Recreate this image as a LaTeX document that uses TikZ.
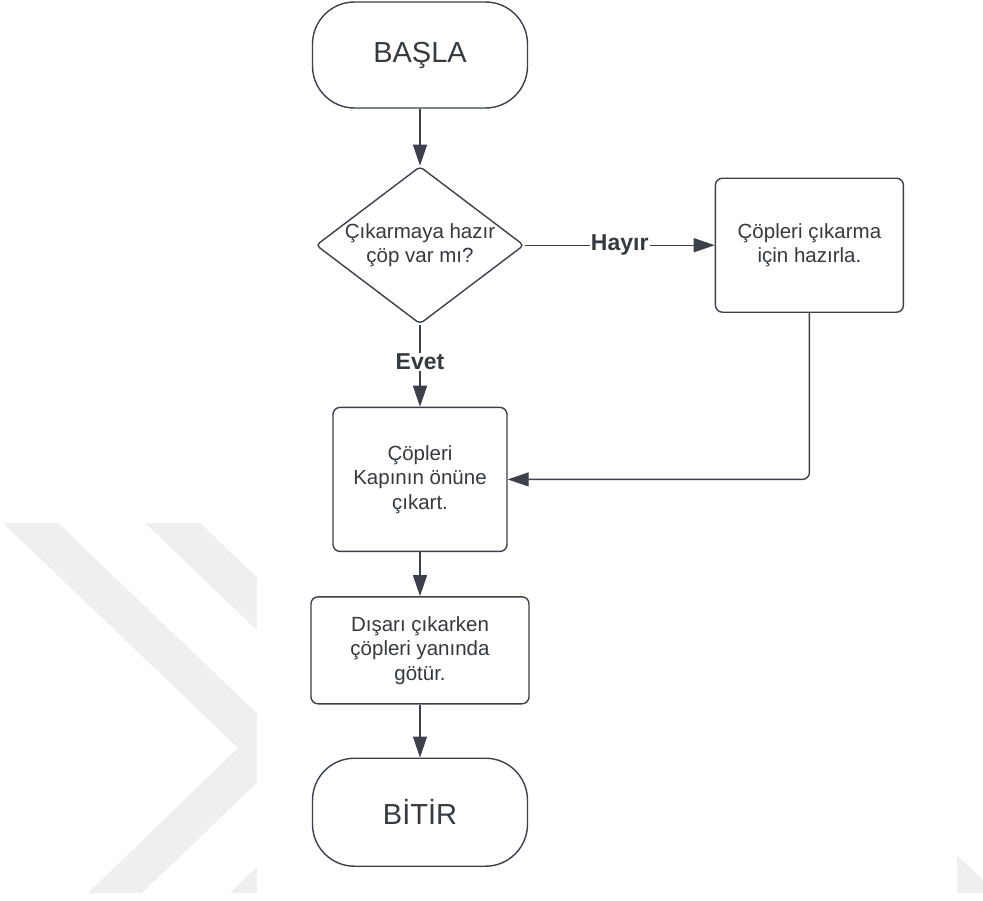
\documentclass[tikz,border=0pt]{standalone}
\usepackage{fontspec}
\setmainfont{Liberation Sans}
\usetikzlibrary{arrows.meta,shapes.geometric,positioning}
\definecolor{lineGray}{HTML}{3A414A}
\definecolor{textGray}{HTML}{333A40}
\definecolor{markGray}{HTML}{EFEFEF}

\begin{document}
\begin{tikzpicture}[x=1pt, y=-1pt,
			block/.style={draw=lineGray, line width=1.4pt, text=textGray, align=center, inner sep=0pt, font=\fontsize{20.5}{24.5}\selectfont},
			terminal/.style={block, rectangle, rounded corners=42pt, minimum width=215pt, minimum height=106pt, font=\fontsize{29}{34}\selectfont},
			decision/.style={block, diamond, aspect=1.32, rounded corners=4pt, minimum width=207pt, minimum height=157pt},
			process/.style={block, rectangle, rounded corners=7pt},
			edgeLabel/.style={fill=white, text=textGray, inner sep=1pt, font=\bfseries\fontsize{23}{27}\selectfont},
			arrow/.style={draw=lineGray, line width=1.4pt},
			arrowStrong/.style={arrow, -{Triangle[length=21pt,width=14pt]}},
			]
			\useasboundingbox (0,0) rectangle (983,900);
			
			% watermark
			\foreach \dx in {0,142}
			\fill[markGray, xshift=\dx pt] (3,523) -- (58,523) -- (293,748) -- (142,893) -- (88,893) -- (238,748) -- cycle;
			\fill[markGray] (957,855) -- (983,880) -- (983,893) -- (957,893) -- cycle;
			\fill[white] (257,0) rectangle (957,900);
			
			%
			\draw node[terminal] at (420,55) (start) {BAŞLA};
			\draw node[decision][below=57pt of start] (question) {Çıkarmaya hazır\\çöp var mı?};
			\draw node[process][minimum width=188pt, minimum height=134pt, right=190pt of question] (prepare) {Çöpleri çıkarma\\için hazırla.};
			\draw node[process][minimum width=174pt, minimum height=144pt, below=82pt of question] (carryOut) {Çöpleri\\Kapının önüne\\çıkart.};
			\draw node[process][minimum width=218pt, minimum height=107pt, below=44pt of carryOut] (takeAlong) {Dışarı çıkarken\\çöpleri yanında\\götür.};
			\draw node[terminal][minimum height=108pt, below=53pt of takeAlong] (stop) {BİTİR};
			
			% Arrow
			\foreach \a/\b in {start/question, carryOut/takeAlong, takeAlong/stop}
			\draw [arrowStrong] (\a.south) -- (\b.north);
			
			\draw [arrowStrong] (question.east) -- node[edgeLabel] {Hayır} (prepare.west);
			\draw [arrowStrong] (question.south) -- node[edgeLabel, pos=0.45] {Evet} (carryOut.north);
			\draw [arrowStrong, rounded corners=7pt] (prepare.south) |- (carryOut.east);
			
		\end{tikzpicture}
\end{document}
